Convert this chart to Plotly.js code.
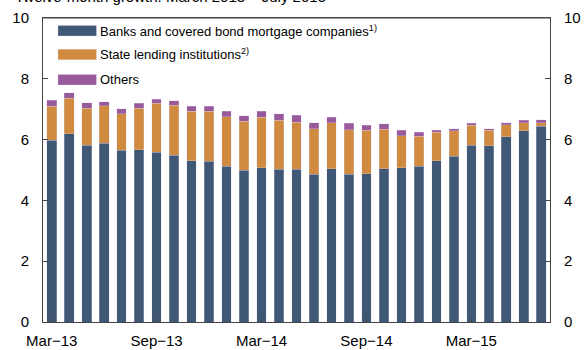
<!DOCTYPE html>
<html>
<head>
<meta charset="utf-8">
<script src="https://cdn.plot.ly/plotly-3.0.1.min.js"></script>
<style>html,body{margin:0;padding:0;background:#fff;}#chart{width:584px;height:350px;}</style>
</head>
<body>
<div id="chart"></div>
<script>
const months = ['Mar-13','Apr-13','May-13','Jun-13','Jul-13','Aug-13','Sep-13','Oct-13','Nov-13','Dec-13',
  'Jan-14','Feb-14','Mar-14','Apr-14','May-14','Jun-14','Jul-14','Aug-14','Sep-14','Oct-14','Nov-14','Dec-14',
  'Jan-15','Feb-15','Mar-15','Apr-15','May-15','Jun-15','Jul-15'];
const banks  = [5.98,6.19,5.82,5.88,5.65,5.66,5.59,5.49,5.30,5.28,5.12,5.00,5.08,5.02,5.02,4.86,5.04,4.86,4.88,5.04,5.08,5.12,5.31,5.45,5.81,5.79,6.10,6.29,6.44];
const stateLending = [1.11,1.17,1.21,1.23,1.20,1.37,1.61,1.64,1.64,1.66,1.64,1.60,1.66,1.62,1.55,1.50,1.51,1.47,1.43,1.30,1.05,0.99,0.93,0.84,0.67,0.52,0.39,0.26,0.11];
const others = [0.21,0.18,0.18,0.13,0.16,0.16,0.13,0.14,0.15,0.16,0.18,0.18,0.19,0.21,0.23,0.20,0.19,0.20,0.17,0.18,0.17,0.14,0.07,0.07,0.06,0.05,0.07,0.08,0.11];
const tickMonths = ['Mar-13','Sep-13','Mar-14','Sep-14','Mar-15'];
const tickText = tickMonths.map(s => s.replace('-', '\u2212'));
const yTicks = [0,2,4,6,8,10];

const seriesNames = ['Banks and covered bond mortgage companies<sup>1)</sup>','State lending institutions<sup>2)</sup>','Others'];
const seriesColors = ['#3F5876','#D08B40','#995A9C'];
const seriesValues = [banks, stateLending, others];

const FONT = 'Liberation Sans, Arial, Helvetica, sans-serif';

const traces = seriesValues.map((vals, i) => ({
  type: 'bar', x: months, y: vals, name: seriesNames[i],
  width: 0.55,
  marker: {color: seriesColors[i], line: {color: 'rgba(220,210,235,0.6)', width: 0.5}},
  showlegend: false, hoverinfo: 'skip'
}));
// helper (invisible) trace so that the right-hand mirror axis is drawn
traces.push({type:'scatter', mode:'markers', x: months, y: banks, yaxis:'y2',
  marker:{opacity:0, size:1}, showlegend:false, hoverinfo:'skip'});

// custom legend (swatches + labels)
const legendRows = [9.58, 8.80, 7.97];
const shapes = [];
const annotations = [];
legendRows.forEach((yy, i) => {
  shapes.push({type:'rect', xref:'paper', yref:'y', x0:0.0296, x1:0.1054, y0:yy-0.17, y1:yy+0.17,
    fillcolor: seriesColors[i], line:{color:'rgba(220,210,235,0.6)', width:0.5}});
  annotations.push({xref:'paper', yref:'y', x:0.109, y:yy, xanchor:'left', yanchor:'middle',
    text: seriesNames[i], showarrow:false, font:{family:FONT, size:13, color:'#000'}});
});
// top frame line
shapes.push({type:'line', xref:'paper', yref:'paper', x0:0, x1:1, y0:1, y1:1,
  line:{color:'#444', width:1}});
annotations.push({xref:'paper', yref:'paper', x:-0.06, y:1.071, xanchor:'left', yanchor:'middle',
  text:'Twelve-month growth. March 2013 \u2013 July 2015', showarrow:false,
  font:{family:FONT, size:15, color:'#000'}});

const axisCommon = {
  range:[0,10], tickvals:yTicks, ticktext:yTicks.map(String), ticks:'inside', ticklen:5,
  tickcolor:'#444', showline:true, linecolor:'#444', linewidth:1, showgrid:false, zeroline:false,
  tickfont:{family:FONT, size:15, color:'#000'}, fixedrange:true
};

const layout = {
  width:584, height:350,
  margin:{l:43, r:34, t:18, b:28, pad:0},
  paper_bgcolor:'#fff', plot_bgcolor:'#fff',
  barmode:'stack',
  showlegend:false,
  xaxis:{type:'category', range:[-0.5, 28.5], tickvals:tickMonths, ticktext:tickText,
    ticks:'inside', ticklen:4, tickcolor:'#444', showline:true, linecolor:'#444', linewidth:1,
    mirror:true, showgrid:false, zeroline:false, tickangle:0, ticklabelstandoff:5,
    tickfont:{family:FONT, size:15, color:'#000'}},
  yaxis: Object.assign({}, axisCommon, {side:'left', ticklabelstandoff:10}),
  yaxis2: Object.assign({}, axisCommon, {side:'right', overlaying:'y', ticklabelstandoff:10}),
  shapes: shapes,
  annotations: annotations
};

Plotly.newPlot('chart', traces, layout, {staticPlot:true, displayModeBar:false});
</script>
</body>
</html>
